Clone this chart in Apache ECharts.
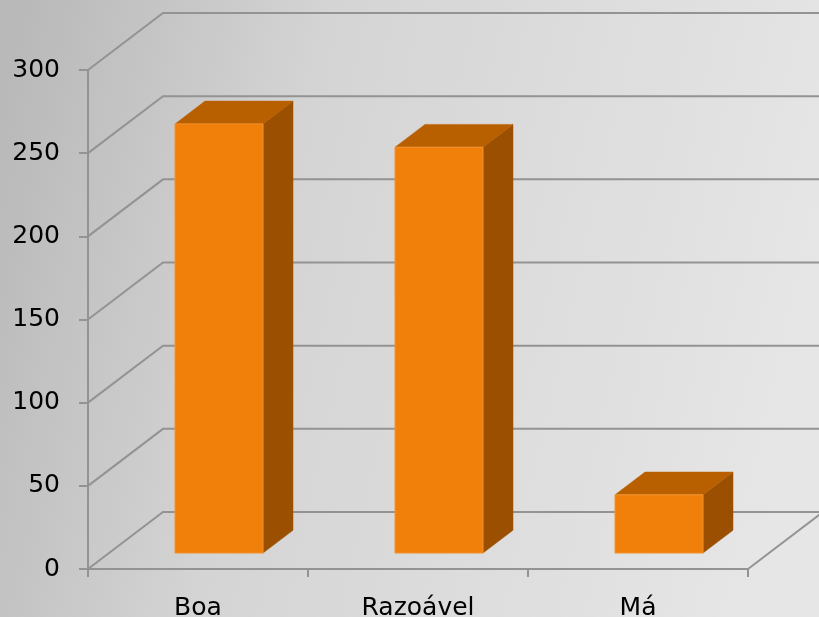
<!DOCTYPE html>
<html>
<head>
<meta charset="utf-8">
<script src="https://cdn.jsdelivr.net/npm/echarts@6/dist/echarts.min.js"></script>
<style>
  html, body { margin: 0; padding: 0; }
  #chart { width: 819px; height: 617px; }
</style>
</head>
<body>
<div id="chart"></div>
<script>
// dados do gráfico
var categorias = ['Boa', 'Razoável', 'Má'];
var valores = [258, 244, 35];
var yTicks = [0, 50, 100, 150, 200, 250, 300];

// profundidade da parede 3D (px) e posição das barras dentro dela
var PROF_X = 75, PROF_Y = -57;
var FRENTE = 0.28, FUNDO_BARRA = 0.4;
var corLinha = '#939393';

var chart = echarts.init(document.getElementById('chart'));

var option = {
    backgroundColor: {
        type: 'linear', x: 0, y: 0.2, x2: 1, y2: 0.5,
        colorStops: [
            { offset: 0, color: '#b9b9b9' },
            { offset: 0.35, color: '#d4d4d4' },
            { offset: 1, color: '#e6e6e6' }
        ]
    },
    textStyle: { fontFamily: 'DejaVu Sans' },
    grid: { left: 88, right: 71, top: 70, bottom: 48, containLabel: false, outerBoundsMode: 'none' },
    xAxis: {
        type: 'category',
        data: categorias,
        axisLine: { lineStyle: { color: corLinha, width: 2 } },
        axisTick: { show: true, length: 8, lineStyle: { color: corLinha, width: 2 } },
        axisLabel: { color: '#000', fontSize: 25, margin: 27 },
        splitLine: { show: false }
    },
    yAxis: {
        type: 'value',
        min: 0, max: 300, interval: 50,
        axisLine: { show: true, lineStyle: { color: corLinha, width: 2 } },
        axisTick: { show: true, length: 9, lineStyle: { color: corLinha, width: 2 } },
        axisLabel: { color: '#000', fontSize: 25, margin: 28 },
        splitLine: { show: false }
    },
    series: [
        {
            // linhas da parede de fundo e do chão
            type: 'custom',
            z: 1,
            silent: true,
            data: yTicks.map(function (v) { return [0, v]; }),
            renderItem: function (params, api) {
                var cs = params.coordSys;
                var p = api.coord([0, api.value(1)]);
                var x0 = cs.x, y0 = p[1];
                var children = [{
                    type: 'polyline',
                    shape: { points: [[x0, y0], [x0 + PROF_X, y0 + PROF_Y], [api.getWidth(), y0 + PROF_Y]] },
                    style: { stroke: corLinha, lineWidth: 2, fill: null }
                }];
                if (api.value(1) === 0) {
                    var xr = cs.x + cs.width;
                    children.push({
                        type: 'line',
                        shape: { x1: xr, y1: y0, x2: xr + PROF_X, y2: y0 + PROF_Y },
                        style: { stroke: corLinha, lineWidth: 2 }
                    });
                }
                return { type: 'group', children: children };
            }
        },
        {
            // barras 3D
            type: 'custom',
            z: 3,
            data: valores.map(function (v, i) { return [i, v]; }),
            renderItem: function (params, api) {
                var base = api.coord([api.value(0), 0]);
                var topo = api.coord([api.value(0), api.value(1)]);
                var banda = api.size([1, 0])[0];
                var w = banda * 0.4;
                var cx = base[0] + FRENTE * PROF_X;
                var yb = base[1] + FRENTE * PROF_Y;
                var yt = topo[1] + FRENTE * PROF_Y;
                var xl = cx - w / 2, xr = cx + w / 2;
                var bx = FUNDO_BARRA * PROF_X, by = FUNDO_BARRA * PROF_Y;
                return {
                    type: 'group',
                    children: [
                        {
                            type: 'polygon',
                            shape: { points: [[xr, yt], [xr + bx, yt + by], [xr + bx, yb + by], [xr, yb]] },
                            style: { fill: '#9a5000', stroke: '#9a5000', lineWidth: 0.5 }
                        },
                        {
                            type: 'polygon',
                            shape: { points: [[xl, yt], [xr, yt], [xr + bx, yt + by], [xl + bx, yt + by]] },
                            style: { fill: '#b86000', stroke: '#b86000', lineWidth: 0.5 }
                        },
                        {
                            type: 'rect',
                            shape: { x: xl, y: yt, width: w, height: yb - yt },
                            style: { fill: '#f0800a', stroke: '#f39232', lineWidth: 1 }
                        }
                    ]
                };
            }
        }
    ]
};

chart.setOption(option);
window.onresize = function () { chart.resize(); };
</script>
</body>
</html>
